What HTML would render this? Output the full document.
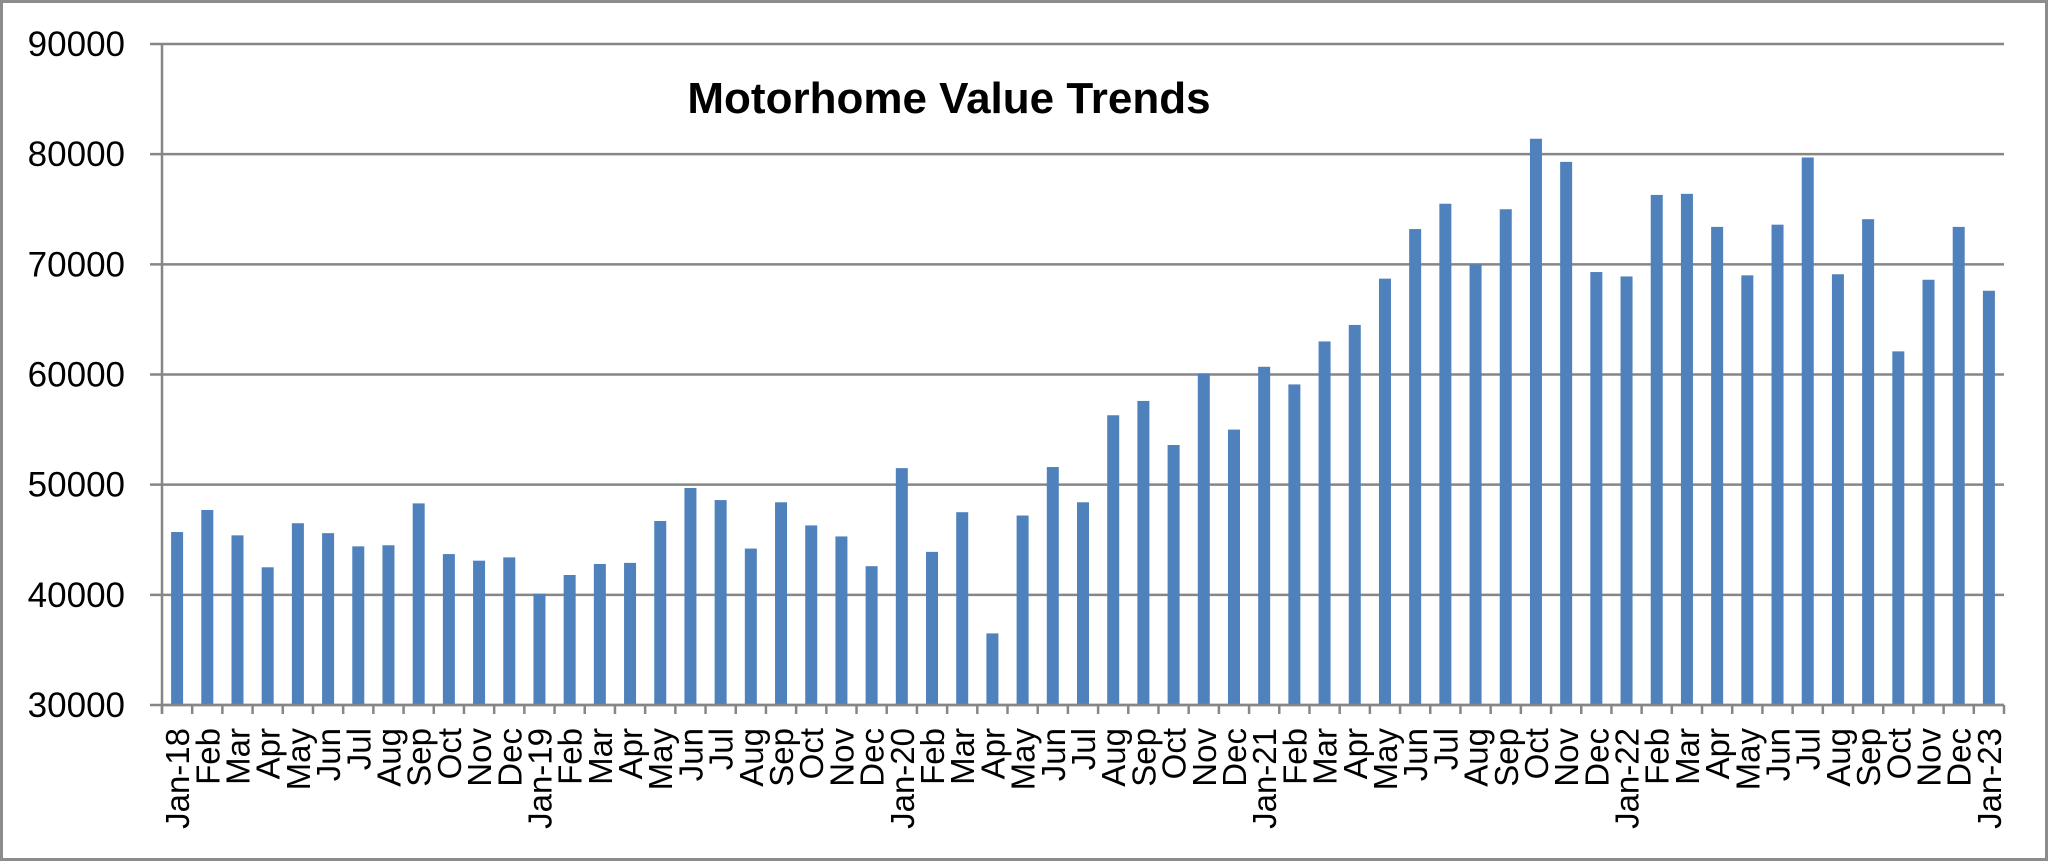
<!DOCTYPE html>
<html><head><meta charset="utf-8"><style>
html,body{margin:0;padding:0;background:#fff;}
svg{display:block;font-family:"Liberation Sans",sans-serif;}
</style></head><body>
<svg id="chart" width="2048" height="861" viewBox="0 0 2048 861">
<rect x="1.5" y="1.5" width="2045" height="858" fill="#fff" stroke="#8c8c8c" stroke-width="3"/>
<text x="949" y="113" text-anchor="middle" font-size="44" font-weight="bold" fill="#000">Motorhome Value Trends</text>
<g id="grid"></g><g id="bars"></g><g id="axes"></g>
</svg>
<script>
const categories=["Jan-18","Feb","Mar","Apr","May","Jun","Jul","Aug","Sep","Oct","Nov","Dec",
"Jan-19","Feb","Mar","Apr","May","Jun","Jul","Aug","Sep","Oct","Nov","Dec",
"Jan-20","Feb","Mar","Apr","May","Jun","Jul","Aug","Sep","Oct","Nov","Dec",
"Jan-21","Feb","Mar","Apr","May","Jun","Jul","Aug","Sep","Oct","Nov","Dec",
"Jan-22","Feb","Mar","Apr","May","Jun","Jul","Aug","Sep","Oct","Nov","Dec","Jan-23"];
const values=[45700,47700,45400,42500,46500,45600,44400,44500,48300,43700,43100,43400,
40100,41800,42800,42900,46700,49700,48600,44200,48400,46300,45300,42600,
51500,43900,47500,36500,47200,51600,48400,56300,57600,53600,60100,55000,
60700,59100,63000,64500,68700,73200,75500,70000,75000,81400,79300,69300,
68900,76300,76400,73400,69000,73600,79700,69100,74100,62100,68600,73400,67600];
const yTicks=[30000,40000,50000,60000,70000,80000,90000];
const NS="http://www.w3.org/2000/svg";
const L=162,R=2004,T=44,B=705,yMin=30000,yMax=90000;
const y=v=>B-(v-yMin)/(yMax-yMin)*(B-T);
const bw=(R-L)/categories.length;
const x=i=>L+bw*i;
function mk(tag,attrs,parent){const e=document.createElementNS(NS,tag);for(const k in attrs)e.setAttribute(k,attrs[k]);parent.appendChild(e);return e;}
const grid=document.getElementById('grid'),bars=document.getElementById('bars'),axes=document.getElementById('axes');
yTicks.forEach(t=>{
  const ln=mk('line',{x1:L-12,x2:R,y1:y(t),y2:y(t),stroke:'#868686','stroke-width':2.5},grid);
  
  
  const tx=mk('text',{x:125,y:y(t)+12,'text-anchor':'end','font-size':35,fill:'#000'},axes);
  tx.textContent=t;
  
  
});
values.forEach((v,i)=>{
  const r=mk('rect',{x:x(i)+bw/2-6,y:y(v),width:12,height:B-y(v),fill:'#4f81bd'},bars);
  
  
});
const ax=mk('line',{x1:L,x2:L,y1:T,y2:B+8,stroke:'#868686','stroke-width':2.5},axes);


const xa=mk('line',{x1:L,x2:R,y1:B,y2:B,stroke:'#868686','stroke-width':2.5},axes);


for(let i=0;i<=categories.length;i++){
  const tk=mk('line',{x1:x(i),x2:x(i),y1:B,y2:B+9,stroke:'#868686','stroke-width':2.5},axes);
  
  
}
categories.forEach((c,i)=>{
  const cx=x(i)+bw/2+12,cy=728;
  const tx=mk('text',{x:cx,y:cy,'text-anchor':'end','font-size':33,fill:'#000',transform:`rotate(-90 ${cx} ${cy})`},axes);
  tx.textContent=c;
  
  
});
</script>
</body></html>
